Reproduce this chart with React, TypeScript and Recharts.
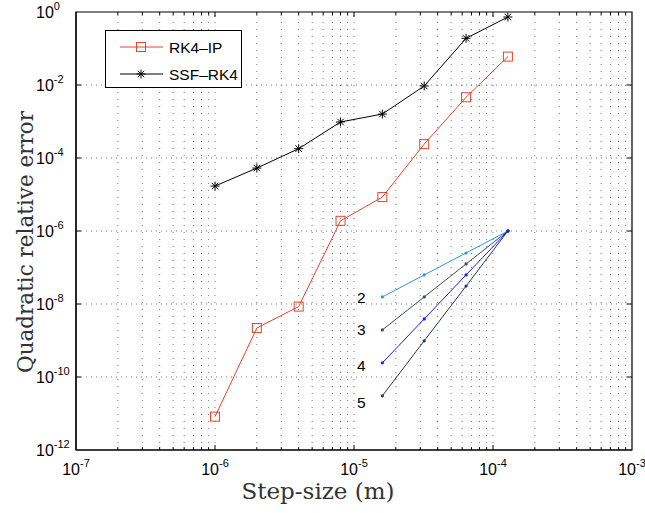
import React from "react";
import { LineChart, Line, XAxis, YAxis, ReferenceLine, ReferenceArea } from "recharts";

// step sizes (m)
const steps = [1e-6, 2e-6, 4e-6, 8e-6, 1.6e-5, 3.2e-5, 6.4e-5, 1.28e-4];
const rk4ip = [8.2e-12, 2.2e-9, 8.5e-9, 1.9e-6, 8.5e-6, 2.4e-4, 4.6e-3, 0.06];
const ssfRk4 = [1.7e-5, 5.3e-5, 1.8e-4, 9.7e-4, 1.6e-3, 9.4e-3, 0.19, 0.73];

// reference slopes
const slopeSteps = [1.6e-5, 3.2e-5, 6.4e-5, 1.28e-4];
const slope2 = [1.56e-8, 6.25e-8, 2.5e-7, 1e-6];
const slope3 = [1.95e-9, 1.56e-8, 1.25e-7, 1e-6];
const slope4 = [2.44e-10, 3.9e-9, 6.25e-8, 1e-6];
const slope5 = [3.05e-11, 9.8e-10, 3.1e-8, 1e-6];
const slopeLabels = ["2", "3", "4", "5"];

const xTicks = [1e-7, 1e-6, 1e-5, 1e-4, 1e-3];
const yTicks = [1e-12, 1e-10, 1e-8, 1e-6, 1e-4, 1e-2, 1];

const RED = "#e5452c";
const slopeColors = ["#2b9ad6", "#3b4a6b", "#1c1cf0", "#22346f"];
const slopeLabelDy = [6, 5, 8, 12];

const toPts = (xs: number[], ys: number[]) => xs.map((x, i) => ({ x, y: ys[i] }));

const expOf = (v: number) => Math.round(Math.log10(v));

const SANS = "Liberation Sans, Arial, sans-serif";

const XTick = (props: any) => {
  const { x, payload } = props;
  return (
    <text x={x} y={475} textAnchor="middle" fontFamily={SANS} fontSize={16} fill="#000">
      10
      <tspan dy={-8} fontSize={11}>{expOf(payload.value)}</tspan>
    </text>
  );
};

const YTick = (props: any) => {
  const { y, payload } = props;
  return (
    <text x={36} y={y + 6} textAnchor="start" fontFamily={SANS} fontSize={16} fill="#000">
      10
      <tspan dy={-8} fontSize={11}>{expOf(payload.value)}</tspan>
    </text>
  );
};

const Square = (props: any) => {
  const { cx, cy, index } = props;
  return <rect key={index} x={cx - 4.5} y={cy - 4.5} width={9} height={9} fill="none" stroke={RED} strokeWidth={1} />;
};

const Star = (props: any) => {
  const { cx, cy, index } = props;
  const r = 4.5;
  const d = r * 0.72;
  return (
    <g key={index} stroke="#000" strokeWidth={1}>
      <line x1={cx - r} y1={cy} x2={cx + r} y2={cy} />
      <line x1={cx} y1={cy - r} x2={cx} y2={cy + r} />
      <line x1={cx - d} y1={cy - d} x2={cx + d} y2={cy + d} />
      <line x1={cx - d} y1={cy + d} x2={cx + d} y2={cy - d} />
    </g>
  );
};

const SmallDot = (color: string) => (props: any) => {
  const { cx, cy, index } = props;
  return <circle key={index} cx={cx} cy={cy} r={1.6} fill={color} />;
};

const slopeLabel = (k: number) => (props: any) => {
  const { x, y, index } = props;
  if (index !== 0) return <g key={index} />;
  return (
    <text key={index} x={x - 21} y={y + slopeLabelDy[k]} textAnchor="middle" fontFamily={SANS} fontSize={15.5} fill="#000">
      {slopeLabels[k]}
    </text>
  );
};

const LegendBox = () => (
  <div style={{ position: "absolute", left: 105, top: 30, width: 137, height: 58, border: "1px solid #000", background: "#fff", boxSizing: "border-box" }}>
    <svg width={137} height={58} style={{ display: "block", position: "absolute", left: -1, top: -1 }}>
      <line x1={15} y1={17} x2={58} y2={17} stroke={RED} strokeWidth={1} />
      <rect x={31.5} y={12.5} width={9} height={9} fill="none" stroke={RED} />
      <line x1={15} y1={44} x2={58} y2={44} stroke="#000" strokeWidth={1} />
      <g stroke="#000" strokeWidth={1}>
        <line x1={31.5} y1={44} x2={40.5} y2={44} />
        <line x1={36} y1={39.5} x2={36} y2={48.5} />
        <line x1={32.8} y1={40.8} x2={39.2} y2={47.2} />
        <line x1={32.8} y1={47.2} x2={39.2} y2={40.8} />
      </g>
      <text x={64} y={22.5} fontSize={15.5} fontFamily={SANS}>RK4–IP</text>
      <text x={64} y={49.5} fontSize={15.5} fontFamily={SANS}>SSF–RK4</text>
    </svg>
  </div>
);

// grid positions
const xGrid: number[] = [];
for (let k = -7; k <= -4; k++) {
  for (let m = 1; m <= 9; m++) {
    const v = m * Math.pow(10, k);
    if (v > 1.01e-7) xGrid.push(v);
  }
}
const yGrid = yTicks.slice(1, -1);

const gridColor = "#777";

export default function App() {
  const slopes = [slope2, slope3, slope4, slope5];
  return (
    <div style={{ position: "absolute", left: 0, top: 0, width: 645, height: 513, background: "#fff" }}>
      <LineChart width={645} height={513} margin={{ top: 12, right: 13, left: 0, bottom: 0 }}>
        <XAxis
          dataKey="x"
          type="number"
          scale="log"
          domain={[1e-7, 1e-3]}
          ticks={xTicks}
          allowDataOverflow
          height={63}
          axisLine={{ stroke: "#000", strokeWidth: 1.2 }}
          tickLine={false}
          tick={<XTick />}
          interval={0}
        />
        <YAxis
          dataKey="y"
          type="number"
          scale="log"
          domain={[1e-12, 1]}
          ticks={yTicks}
          allowDataOverflow
          width={76}
          axisLine={{ stroke: "#000", strokeWidth: 1.2 }}
          tickLine={false}
          tick={<YTick />}
          interval={0}
        />
        {xGrid.map((v) => (
          <ReferenceLine key={"gx" + v} x={v} stroke={gridColor} strokeDasharray="1 6" strokeWidth={1} ifOverflow="visible" />
        ))}
        {yGrid.map((v) => (
          <ReferenceLine key={"gy" + v} y={v} stroke={gridColor} strokeDasharray="1 4" strokeWidth={1} ifOverflow="visible" />
        ))}
        {xGrid.map((v) => {
          const major = Math.abs(Math.log10(v) - Math.round(Math.log10(v))) < 1e-6;
          const f = major ? 1.37 : 1.2;
          return [
            <ReferenceLine key={"tb" + v} segment={[{ x: v, y: 1e-12 }, { x: v, y: 1e-12 * f }]} stroke="#000" ifOverflow="visible" />,
            <ReferenceLine key={"tt" + v} segment={[{ x: v, y: 1 }, { x: v, y: 1 / f }]} stroke="#000" ifOverflow="visible" />,
          ];
        })}
        {yGrid.map((v) => [
          <ReferenceLine key={"tl" + v} segment={[{ x: 1e-7, y: v }, { x: 1e-7 * 1.086, y: v }]} stroke="#000" ifOverflow="visible" />,
          <ReferenceLine key={"tr" + v} segment={[{ x: 1e-3, y: v }, { x: 1e-3 / 1.086, y: v }]} stroke="#000" ifOverflow="visible" />,
        ])}
        <ReferenceArea x1={1e-7} x2={1e-3} y1={1e-12} y2={1} fill="none" fillOpacity={0} stroke="#000" strokeWidth={1.2} ifOverflow="visible" />
        {slopes.map((s, k) => (
          <Line
            key={"s" + k}
            data={toPts(slopeSteps, s)}
            dataKey="y"
            type="linear"
            stroke={slopeColors[k]}
            strokeWidth={1}
            dot={SmallDot(slopeColors[k])}
            label={slopeLabel(k)}
            isAnimationActive={false}
            legendType="none"
          />
        ))}
        <Line data={toPts(steps, rk4ip)} dataKey="y" name="RK4–IP" type="linear" stroke={RED} strokeWidth={1} dot={Square} isAnimationActive={false} />
        <Line data={toPts(steps, ssfRk4)} dataKey="y" name="SSF–RK4" type="linear" stroke="#000" strokeWidth={1} dot={Star} isAnimationActive={false} />
        <text x={318} y={499} textAnchor="middle" fontFamily="DejaVu Serif, serif" fontSize={23} fill="#333">
          Step-size (m)
        </text>
        <text x={33} y={242} textAnchor="middle" transform="rotate(-90, 33, 242)" fontFamily="DejaVu Serif, serif" fontSize={21.5} fill="#333">
          Quadratic relative error
        </text>
      </LineChart>
      <LegendBox />
    </div>
  );
}
